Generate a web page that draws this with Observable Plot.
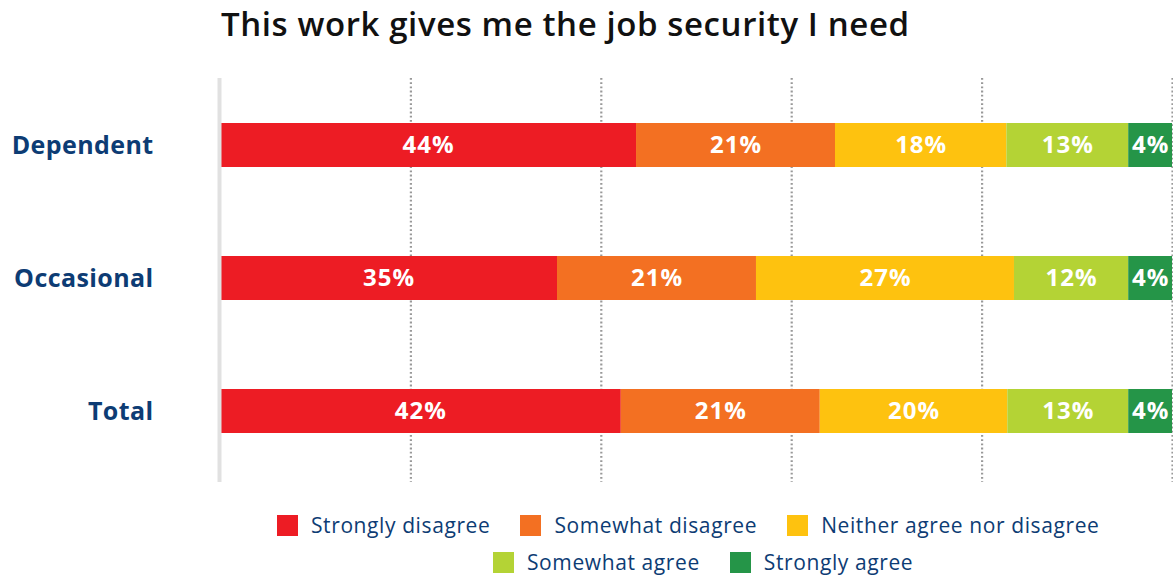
<!DOCTYPE html>
<html>
<head>
<meta charset="utf-8">
<script src="https://cdn.jsdelivr.net/npm/d3@7"></script>
<script src="https://cdn.jsdelivr.net/npm/@observablehq/plot@0.6"></script>
<style>
  body { margin: 0; background: #fff; width: 1173px; height: 576px; overflow: hidden; position: relative; font-family: "Open Sans", sans-serif; }
  #title { position: absolute; left: 221px; top: 1px; font-size: 33px; font-weight: 600; letter-spacing: 0.6px; color: #111; white-space: nowrap; }
  #chart { position: absolute; left: 0; top: 60px; }
  #chart svg [aria-label="y-axis tick label"] text { font-size: 25px; font-weight: 700; fill: #0d3c74; letter-spacing: 0.4px; }
  .legend-row { position: absolute; display: flex; align-items: center; white-space: nowrap; }
  .legend-item { display: flex; align-items: center; margin-right: 30px; }
  .legend-sw { width: 21px; height: 21px; margin-right: 13px; }
  .legend-tx { font-size: 21px; font-weight: 500; color: #0d3c74; letter-spacing: 0.6px; }
</style>
</head>
<body>
<div id="title">This work gives me the job security I need</div>
<div id="chart"></div>
<div id="legend"></div>
<script>
const groups = ["Dependent", "Occasional", "Total"];
const responses = ["Strongly disagree", "Somewhat disagree", "Neither agree nor disagree", "Somewhat agree", "Strongly agree"];
const colors = ["#ED1C24", "#F37022", "#FEC20F", "#B4D335", "#259548"];
const dependentValues = [43.7, 20.9, 18.0, 12.8, 4.6];
const occasionalValues = [35.4, 20.9, 27.1, 12.0, 4.6];
const totalValues = [42.1, 20.9, 19.7, 12.7, 4.6];
const dependentLabels = ["44%", "21%", "18%", "13%", "4%"];
const occasionalLabels = ["35%", "21%", "27%", "12%", "4%"];
const totalLabels = ["42%", "21%", "20%", "13%", "4%"];
const gridTicks = [20, 40, 60, 80, 100];

const valueSets = [dependentValues, occasionalValues, totalValues];
const labelSets = [dependentLabels, occasionalLabels, totalLabels];
const rows = [];
groups.forEach((g, gi) => {
  responses.forEach((r, ri) => {
    rows.push({group: g, response: r, value: valueSets[gi][ri], label: labelSets[gi][ri]});
  });
});

const chart = Plot.plot({
  width: 1173,
  height: 430,
  marginLeft: 220,
  marginRight: 1,
  marginTop: 18,
  marginBottom: 8,
  style: {fontFamily: "'Open Sans', sans-serif", background: "transparent"},
  x: {domain: [0, 100], axis: null},
  y: {domain: groups, range: [18, 417], paddingInner: 0.67, paddingOuter: 0.33, axis: null},
  color: {domain: responses, range: colors},
  marks: [
    Plot.ruleX(gridTicks, {stroke: "#999", strokeWidth: 2.2, strokeDasharray: "1.8,2.4"}),
    Plot.barX(rows, Plot.stackX({y: "group", x: "value", fill: "response", order: responses})),
    Plot.text(rows, Plot.stackX({y: "group", x: "value", z: "response", order: responses, text: "label", fill: "white", fontSize: 24, fontWeight: 700, style: "letter-spacing:1px"})),
    Plot.ruleX([0], {stroke: "#e1e1e1", strokeWidth: 4, dx: -1}),
    Plot.axisY({tickSize: 0, tickPadding: 67, label: null})
  ]
});
document.getElementById("chart").appendChild(chart);
chart.querySelectorAll('g[aria-label="text"] text').forEach(t => t.setAttribute("letter-spacing", "1"));

const legend = document.getElementById("legend");
const legendRows = [[0, 1, 2], [3, 4]];
const rowPos = [{left: 277, top: 511}, {left: 493, top: 548}];
legendRows.forEach((idx, k) => {
  const row = document.createElement("div");
  row.className = "legend-row";
  row.style.left = rowPos[k].left + "px";
  row.style.top = rowPos[k].top + "px";
  idx.forEach(i => {
    const item = document.createElement("div");
    item.className = "legend-item";
    const sw = document.createElement("div");
    sw.className = "legend-sw";
    sw.style.background = colors[i];
    const tx = document.createElement("span");
    tx.className = "legend-tx";
    tx.textContent = responses[i];
    item.appendChild(sw);
    item.appendChild(tx);
    row.appendChild(item);
  });
  legend.appendChild(row);
});
</script>
</body>
</html>
